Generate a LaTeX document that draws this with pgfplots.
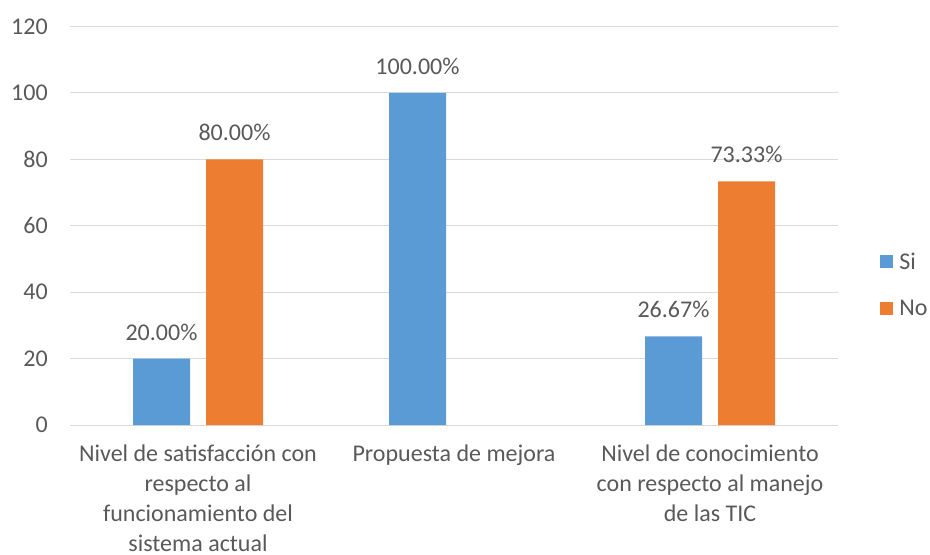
\documentclass[border=0pt]{standalone}
\usepackage{fontspec}
\setmainfont{Carlito}
\usepackage{pgfplots}
\pgfplotsset{compat=1.18}
\definecolor{siblue}{HTML}{5B9BD5}
\definecolor{noorange}{HTML}{ED7D31}
\definecolor{gridgray}{HTML}{D9D9D9}
\definecolor{txtgray}{HTML}{595959}
\begin{document}
\begin{tikzpicture}
\begin{axis}[
  scale only axis,
  width=576pt, height=298.9pt,
  xmin=-0.5, xmax=2.5, ymin=0, ymax=120,
  ytick={0,20,40,60,80,100,120},
  xtick={0,1,2},
  xticklabels={{Nivel de satisfacción con\\respecto al\\funcionamiento del\\sistema actual},
               {Propuesta de mejora},
               {Nivel de conocimiento\\con respecto al manejo\\de las TIC}},
  ybar=12pt, bar width=42.75pt,
  axis line style={draw=none},
  tick style={draw=none},
  ymajorgrids,
  major grid style={color=gridgray, line width=0.75pt},
  /pgf/number format/assume math mode=true,
  font=\fontsize{18pt}{22.4pt}\selectfont,
  every tick label/.append style={text=txtgray},
  yticklabel style={anchor=east, inner sep=0pt, xshift=-16.5pt},
  xticklabel style={anchor=north, inner sep=0pt, yshift=-10.5pt, align=center},
  nodes near coords={\pgfmathprintnumber[fixed,fixed zerofill,precision=2]{\pgfplotspointmeta}\%},
  every node near coord/.append style={anchor=base, inner sep=0pt, yshift=13.9pt, text=txtgray, font=\fontsize{18pt}{22.4pt}\selectfont},
  legend style={at={(rel axis cs:1.0547,0.351)}, anchor=west, draw=none, fill=none,
    inner sep=0pt, row sep=21.75pt, font=\fontsize{18pt}{22.4pt}\selectfont, text=txtgray,
    nodes={inner sep=0pt}},
  legend cell align=left,
  legend image code/.code={\fill[#1] (0pt,-4.875pt) rectangle (9.75pt,4.875pt);},
]
\addplot[fill=siblue, draw=none] coordinates {(0,20) (1,100) (2,26.67)};
\addplot[fill=noorange, draw=none] coordinates {(0,80) (2,73.33)};
\legend{\hspace{4.5pt}Si,\hspace{4.5pt}No}
\end{axis}
\pgfresetboundingbox
\path[use as bounding box] ([xshift=-52.5pt,yshift=-96.75pt]current axis.south west) rectangle ([xshift=645pt,yshift=318.75pt]current axis.south west);
\end{tikzpicture}
\end{document}
